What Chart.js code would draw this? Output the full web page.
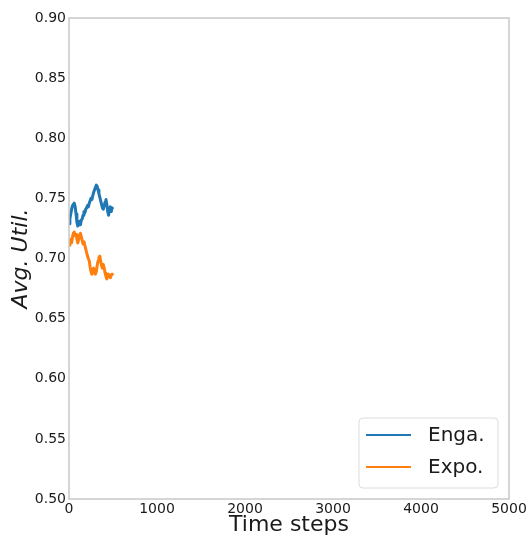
<!DOCTYPE html>
<html>
<head>
<meta charset="utf-8">
<script src="https://cdn.jsdelivr.net/npm/chart.js@4/dist/chart.umd.min.js"></script>
<style>
  html, body { margin: 0; padding: 0; background: #fff; }
  #wrap { width: 529px; height: 538px; }
</style>
</head>
<body>
<div id="wrap"><canvas id="grafico" width="529" height="538"></canvas></div>
<script>
// datos
const pasos = [0, 10, 20, 30, 40, 50, 60, 70, 80, 90, 100, 110, 120, 130, 140, 150, 160, 170, 180, 190,
  200, 210, 220, 230, 240, 250, 260, 270, 280, 290, 300, 310, 320, 330, 340, 350, 360, 370, 380, 390,
  400, 410, 420, 430, 440, 450, 460, 470, 480, 490, 500];
const enga = [0.729, 0.733, 0.737, 0.741, 0.744, 0.745, 0.746, 0.743, 0.737, 0.730, 0.727, 0.729, 0.731,
  0.728, 0.732, 0.733, 0.736, 0.739, 0.738, 0.741, 0.742, 0.744, 0.743, 0.746, 0.748, 0.750, 0.749,
  0.752, 0.755, 0.757, 0.759, 0.761, 0.760, 0.757, 0.754, 0.751, 0.748, 0.745, 0.742, 0.741, 0.744,
  0.747, 0.749, 0.745, 0.739, 0.736, 0.741, 0.743, 0.739, 0.742, 0.741];
const expo = [0.711, 0.714, 0.716, 0.713, 0.718, 0.721, 0.722, 0.719, 0.720, 0.716, 0.713, 0.716, 0.719,
  0.721, 0.718, 0.715, 0.712, 0.714, 0.711, 0.708, 0.705, 0.702, 0.700, 0.698, 0.693, 0.689, 0.687,
  0.690, 0.692, 0.689, 0.687, 0.689, 0.694, 0.698, 0.701, 0.702, 0.698, 0.694, 0.692, 0.695, 0.692,
  0.688, 0.685, 0.683, 0.686, 0.687, 0.686, 0.684, 0.686, 0.687, 0.686];
const etiquetas = ['Enga.', 'Expo.'];
const colores = ['#1f77b4', '#ff7f0e'];
const ticksX = [0, 1000, 2000, 3000, 4000, 5000];
const ticksY = [0.50, 0.55, 0.60, 0.65, 0.70, 0.75, 0.80, 0.85, 0.90];

const fuente = 'DejaVu Sans';
const colorTexto = '#1a1a1a';
const colorEje = '#c8c8c8';

// marco completo del area del grafico
const marco = {
  id: 'marco',
  afterDatasetsDraw(chart) {
    const { ctx, chartArea: a } = chart;
    ctx.save();
    ctx.strokeStyle = colorEje;
    ctx.lineWidth = 1.5;
    ctx.strokeRect(a.left, a.top, a.right - a.left, a.bottom - a.top);
    ctx.restore();
  }
};

// leyenda dentro del area, abajo a la derecha
const leyenda = {
  id: 'leyenda',
  afterDraw(chart) {
    const { ctx, chartArea: a } = chart;
    const w = 139, h = 70;
    const x = a.right - 11 - w, y = a.bottom - 11 - h;
    ctx.save();
    ctx.fillStyle = 'rgba(255,255,255,0.8)';
    ctx.strokeStyle = '#dcdcdc';
    ctx.lineWidth = 1;
    ctx.beginPath();
    ctx.roundRect(x, y, w, h, 4);
    ctx.fill();
    ctx.stroke();
    ctx.font = '20px "' + fuente + '"';
    ctx.textBaseline = 'middle';
    chart.data.datasets.forEach((ds, i) => {
      const ly = y + 17 + i * 32;
      ctx.strokeStyle = ds.borderColor;
      ctx.lineWidth = 2.2;
      ctx.beginPath();
      ctx.moveTo(x + 7, ly);
      ctx.lineTo(x + 52, ly);
      ctx.stroke();
      ctx.fillStyle = colorTexto;
      ctx.fillText(ds.label, x + 69, ly + 1);
    });
    ctx.restore();
  }
};

const ctx = document.getElementById('grafico').getContext('2d');
new Chart(ctx, {
  type: 'line',
  data: {
    datasets: [
      { label: etiquetas[0], data: pasos.map((p, i) => ({ x: p, y: enga[i] })), borderColor: colores[0] },
      { label: etiquetas[1], data: pasos.map((p, i) => ({ x: p, y: expo[i] })), borderColor: colores[1] }
    ].map(d => Object.assign(d, { borderWidth: 3, pointRadius: 0, fill: false, tension: 0, borderJoinStyle: 'round' }))
  },
  options: {
    responsive: false,
    animation: false,
    layout: { padding: { top: 18, right: 20, left: 0, bottom: 0 } },
    plugins: { legend: { display: false }, tooltip: { enabled: false } },
    scales: {
      x: {
        type: 'linear',
        min: 0, max: 5000,
        afterBuildTicks: s => { s.ticks = ticksX.map(v => ({ value: v })); },
        afterFit: s => { s.height = 39; },
        grid: { display: false, drawTicks: false },
        border: { display: false },
        ticks: { font: { family: fuente, size: 14 }, color: colorTexto, padding: 2, maxRotation: 0, callback: v => String(v) },
        title: { display: true, text: 'Time steps', font: { family: fuente, size: 22 }, color: colorTexto, padding: 0 }
      },
      y: {
        min: 0.5, max: 0.9,
        afterBuildTicks: s => { s.ticks = ticksY.map(v => ({ value: v })); },
        afterFit: s => { s.width = 69; },
        grid: { display: false, drawTicks: false },
        border: { display: false },
        ticks: { font: { family: fuente, size: 14 }, color: colorTexto, padding: 3, callback: v => v.toFixed(2) },
        title: { display: true, text: 'Avg. Util.', font: { family: fuente, size: 22, style: 'italic' }, color: colorTexto, padding: { top: 8, bottom: 0 } }
      }
    }
  },
  plugins: [marco, leyenda]
});
</script>
</body>
</html>
